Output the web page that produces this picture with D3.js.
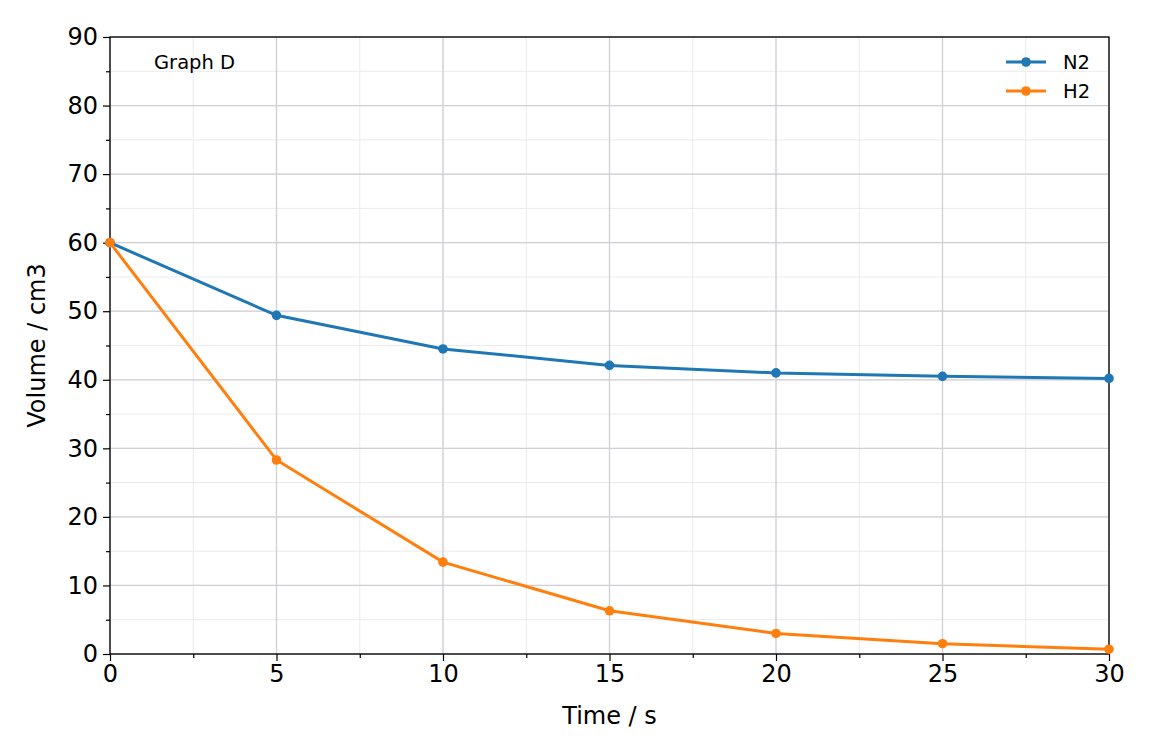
<!DOCTYPE html><html><head><meta charset="utf-8"><script src="https://cdn.jsdelivr.net/npm/d3@7"></script>
<style>body{margin:0;background:#fff}text{font-family:"DejaVu Sans",sans-serif}</style></head><body><svg id="c" width="1152" height="756"></svg><script>
const times=[0,5,10,15,20,25,30];
const n2=[60,49.4,44.5,42.1,41.0,40.5,40.2];
const h2=[60,28.3,13.4,6.3,3.0,1.5,0.7];
const xTicks=[0,5,10,15,20,25,30];
const yTicks=[0,10,20,30,40,50,60,70,80,90];
const series=[{name:"N2",vals:n2,color:"#1f77b4"},{name:"H2",vals:h2,color:"#ff7f0e"}];
const L=110,R=1109,T=37,B=654;
const svg=d3.select("#c");
const x=d3.scaleLinear().domain([0,30]).range([L,R]);
const y=d3.scaleLinear().domain([0,90]).range([B,T]);
const xm=d3.range(0,30.01,2.5), ym=d3.range(0,90.01,5);
const g=svg.append("g");
g.selectAll(".xm").data(xm).join("line").attr("x1",d=>x(d)).attr("x2",d=>x(d)).attr("y1",T).attr("y2",B).attr("stroke","#ebebeb").attr("stroke-width",1);
g.selectAll(".ym").data(ym).join("line").attr("y1",d=>y(d)).attr("y2",d=>y(d)).attr("x1",L).attr("x2",R).attr("stroke","#ebebeb").attr("stroke-width",1);
g.selectAll(".xg").data(xTicks).join("line").attr("x1",d=>x(d)).attr("x2",d=>x(d)).attr("y1",T).attr("y2",B).attr("stroke","#cfcfd6").attr("stroke-width",1.3);
g.selectAll(".yg").data(yTicks).join("line").attr("y1",d=>y(d)).attr("y2",d=>y(d)).attr("x1",L).attr("x2",R).attr("stroke","#cfcfd6").attr("stroke-width",1.3);
svg.append("g").attr("transform",`translate(0,${B})`).call(d3.axisBottom(x).tickValues(xTicks).tickSize(7).tickPadding(4));
svg.append("g").attr("transform",`translate(0,${B})`).call(d3.axisBottom(x).tickValues(xm.filter(d=>d%5)).tickSize(4).tickFormat(""));
svg.append("g").attr("transform",`translate(${L},0)`).call(d3.axisLeft(y).tickValues(yTicks).tickSize(7).tickPadding(5));
svg.append("g").attr("transform",`translate(${L},0)`).call(d3.axisLeft(y).tickValues(ym.filter(d=>d%10)).tickSize(4).tickFormat(""));
svg.selectAll(".domain").remove();
svg.selectAll(".tick text").attr("font-size",24).attr("fill","#000").attr("font-family","DejaVu Sans");
svg.selectAll(".tick line").attr("stroke","#000").attr("stroke-width",1.2);
svg.append("rect").attr("x",L).attr("y",T).attr("width",R-L).attr("height",B-T).attr("fill","none").attr("stroke","#000").attr("stroke-width",1.3);
const line=d3.line().x((d,i)=>x(times[i])).y(d=>y(d));
series.forEach(s=>{
 svg.append("path").attr("d",line(s.vals)).attr("fill","none").attr("stroke",s.color).attr("stroke-width",3);
 svg.selectAll(null).data(s.vals).join("circle").attr("cx",(d,i)=>x(times[i])).attr("cy",d=>y(d)).attr("r",4.8).attr("fill",s.color);
});
svg.append("text").attr("x",154).attr("y",69).attr("font-size",19.5).text("Graph D");
series.forEach((s,i)=>{
 const yy=62+i*29;
 svg.append("line").attr("x1",1006).attr("x2",1046).attr("y1",yy).attr("y2",yy).attr("stroke",s.color).attr("stroke-width",3);
 svg.append("circle").attr("cx",1026).attr("cy",yy).attr("r",4.8).attr("fill",s.color);
 svg.append("text").attr("x",1063).attr("y",yy+7).attr("font-size",19.5).text(s.name);
});
svg.append("text").attr("x",(L+R)/2).attr("y",724).attr("text-anchor","middle").attr("font-size",24).text("Time / s");
svg.append("text").attr("transform",`translate(45,${(T+B)/2}) rotate(-90)`).attr("text-anchor","middle").attr("font-size",24).text("Volume / cm3");
</script></body></html>
